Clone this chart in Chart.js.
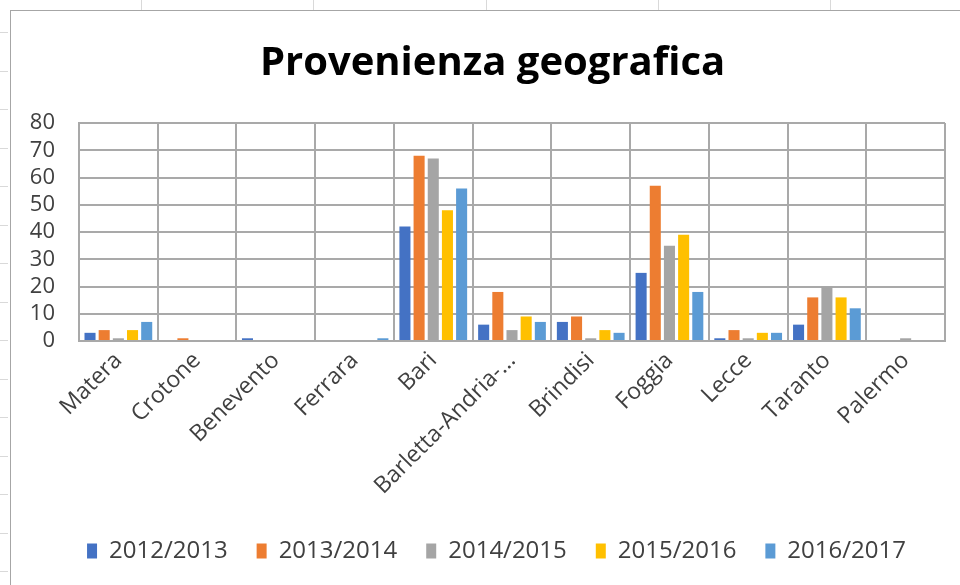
<!DOCTYPE html>
<html>
<head>
<meta charset="utf-8">
<script src="https://cdn.jsdelivr.net/npm/chart.js@4/dist/chart.umd.min.js"></script>
<style>
    html, body { margin: 0; padding: 0; background: #fff; }
    #wrap { position: relative; width: 960px; height: 585px; overflow: hidden; }
    #chart { position: absolute; left: 0; top: 0; }
    .frameTop { position: absolute; left: 10px; top: 10px; width: 950px; height: 0; border-top: 1px solid #a6a6a6; }
    .frameLeft { position: absolute; left: 10px; top: 10px; width: 0; height: 575px; border-left: 1px solid #a6a6a6; }
    .col { position: absolute; top: 0; width: 0; height: 10px; border-left: 1px solid #d9d9d9; }
    .rows { position: absolute; left: 0; top: 0; width: 8px; height: 585px;
        background: repeating-linear-gradient(to bottom, transparent 0 32px, #d9d9d9 32px 33px, transparent 33px 38.5px); }
</style>
</head>
<body>
<div id="wrap">
    <canvas id="chart" width="960" height="585"></canvas>
    <div class="rows"></div>
    <div class="col" style="left:141px"></div>
    <div class="col" style="left:313px"></div>
    <div class="col" style="left:486px"></div>
    <div class="col" style="left:658px"></div>
    <div class="col" style="left:830px"></div>
    <div class="frameTop"></div>
    <div class="frameLeft"></div>
</div>
<script>
const categories = ['Matera', 'Crotone', 'Benevento', 'Ferrara', 'Bari', 'Barletta-Andria-...', 'Brindisi', 'Foggia', 'Lecce', 'Taranto', 'Palermo'];
const years = ['2012/2013', '2013/2014', '2014/2015', '2015/2016', '2016/2017'];
const y2012 = [3, 0, 1, 0, 42, 6, 7, 25, 1, 6, 0];
const y2013 = [4, 1, 0, 0, 68, 18, 9, 57, 4, 16, 0];
const y2014 = [1, 0, 0, 0, 67, 4, 1, 35, 1, 20, 1];
const y2015 = [4, 0, 0, 0, 48, 9, 4, 39, 3, 16, 0];
const y2016 = [7, 0, 0, 1, 56, 7, 3, 18, 3, 12, 0];
const colors = ['#4472C4', '#ED7D31', '#A5A5A5', '#FFC000', '#5B9BD5'];
const yTicks = [0, 10, 20, 30, 40, 50, 60, 70, 80];

const FONT = "'Open Sans', 'Noto Sans', sans-serif";
const GRID = '#a9a9a9';
const PLOT_LEFT = 79;
const PLOT_BOTTOM = 341;
const PAD_LEFT = 20;
const PAD_BOTTOM = 12;

const series = [y2012, y2013, y2014, y2015, y2016];

// Excel puts title and legend a bit right of the canvas centre
const nudgeBlocks = {
    id: 'nudgeBlocks',
    afterLayout(chart) {
        const t = chart.titleBlock;
        if (t) { t.left += 10; t.right += 10; }
        const l = chart.legend;
        if (l) { l.left += 14; l.right += 14; }
    }
};

new Chart(document.getElementById('chart').getContext('2d'), {
    type: 'bar',
    data: {
        labels: categories,
        datasets: series.map((vals, i) => ({
            label: years[i],
            data: vals,
            backgroundColor: colors[i],
            borderWidth: 0,
            categoryPercentage: 0.9,
            barPercentage: 0.78
        }))
    },
    options: {
        responsive: false,
        animation: false,
        devicePixelRatio: 1,
        layout: { padding: { left: PAD_LEFT, right: 15, top: 40, bottom: PAD_BOTTOM } },
        plugins: {
            title: {
                display: true,
                text: 'Provenienza geografica',
                color: '#000',
                font: { family: FONT, size: 40, weight: 'bold' },
                padding: { top: 0, bottom: 35 }
            },
            legend: {
                position: 'bottom',
                labels: {
                    color: '#404040',
                    font: { family: FONT, size: 24 },
                    boxWidth: 10,
                    boxHeight: 15,
                    padding: 29
                }
            },
            tooltip: { enabled: false }
        },
        scales: {
            x: {
                grid: { color: GRID, lineWidth: 2, drawTicks: false, offset: true },
                border: { color: GRID, width: 2 },
                ticks: {
                    color: '#404040',
                    font: { family: FONT, size: 23 },
                    minRotation: 45,
                    maxRotation: 45,
                    autoSkip: false,
                    padding: 6
                },
                afterFit: function(s) {
                    const lh = s.chart.legend ? s.chart.legend.height : 60;
                    s.height = s.chart.height - PLOT_BOTTOM - lh - PAD_BOTTOM;
                }
            },
            y: {
                min: 0,
                max: 80,
                afterBuildTicks: function(s) { s.ticks = yTicks.map(v => ({ value: v })); },
                grid: { color: GRID, lineWidth: 2, drawTicks: false },
                border: { color: GRID, width: 2 },
                ticks: {
                    color: '#404040',
                    font: { family: FONT, size: 22 },
                    padding: 24,
                    autoSkip: false
                },
                afterFit: function(s) { s.width = PLOT_LEFT - PAD_LEFT; }
            }
        }
    },
    plugins: [nudgeBlocks]
});
</script>
</body>
</html>
